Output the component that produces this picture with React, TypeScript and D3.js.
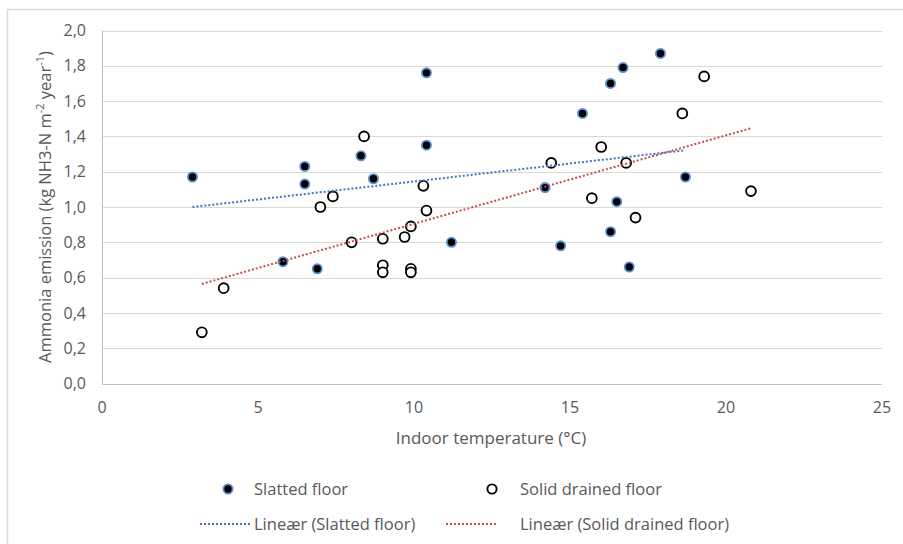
import * as d3 from "d3";

// Slatted floor measurements
const slattedTemp = [2.9, 5.8, 6.5, 6.5, 6.9, 8.3, 8.7, 10.4, 10.4, 11.2, 14.2, 14.7, 15.4, 16.3, 16.7, 16.3, 16.5, 16.9, 17.9, 18.7];
const slattedNH3 = [1.17, 0.69, 1.23, 1.13, 0.65, 1.29, 1.16, 1.76, 1.35, 0.8, 1.11, 0.78, 1.53, 1.7, 1.79, 0.86, 1.03, 0.66, 1.87, 1.17];

// Solid drained floor measurements
const solidTemp = [3.2, 3.9, 7.0, 7.4, 8.0, 8.4, 9.0, 9.0, 9.0, 9.7, 9.9, 9.9, 9.9, 10.3, 10.4, 14.4, 15.7, 16.0, 16.8, 17.1, 18.6, 19.3, 20.8];
const solidNH3 = [0.29, 0.54, 1.0, 1.06, 0.8, 1.4, 0.82, 0.67, 0.63, 0.83, 0.89, 0.65, 0.63, 1.12, 0.98, 1.25, 1.05, 1.34, 1.25, 0.94, 1.53, 1.74, 1.09];

const xTicks = [0, 5, 10, 15, 20, 25];
const yTicks = [0, 0.2, 0.4, 0.6, 0.8, 1.0, 1.2, 1.4, 1.6, 1.8, 2.0];

const W = 903;
const H = 544;
const margin = { top: 30.5, right: 21, bottom: 160.5, left: 102 };

const FONT = "'Open Sans', 'Noto Sans', sans-serif";
const GREY = "#595959";
const BLUE = "#4472c4";
const RED = "#c0504d";

// least squares fit, drawn over the x range of the data like Excel's trendline
function linear(xs: number[], ys: number[]) {
  const mx = d3.mean(xs)!;
  const my = d3.mean(ys)!;
  let sxy = 0;
  let sxx = 0;
  xs.forEach((x, i) => {
    sxy += (x - mx) * (ys[i] - my);
    sxx += (x - mx) * (x - mx);
  });
  const b = sxy / sxx;
  const a = my - b * mx;
  const [x0, x1] = d3.extent(xs) as [number, number];
  return [
    [x0, a + b * x0],
    [x1, a + b * x1],
  ];
}

export default function App() {
  const x = d3.scaleLinear().domain([0, 25]).range([margin.left, W - margin.right]);
  const y = d3.scaleLinear().domain([0, 2]).range([H - margin.bottom, margin.top]);
  const line = d3
    .line<number[]>()
    .x((d) => x(d[0]))
    .y((d) => y(d[1]));

  const fmt = (v: number) => d3.format(".1f")(v).replace(".", ",");
  const slattedFit = linear(slattedTemp, slattedNH3);
  const solidFit = linear(solidTemp, solidNH3);
  const plotMidY = (y(0) + y(2)) / 2;

  return (
    <svg
      width={W}
      height={H}
      style={{ position: "absolute", left: 0, top: 0, background: "#fff" }}
      fontFamily={FONT}
    >
      {/* chart area frame */}
      <rect x={7.5} y={9.5} width={W + 20} height={H + 20} fill="#fff" stroke="#d9d9d9" strokeWidth={1.5} />

      {/* gridlines */}
      {yTicks.map((t) => (
        <line
          key={t}
          x1={x(0)}
          x2={x(25)}
          y1={Math.round(y(t)) + 0.5}
          y2={Math.round(y(t)) + 0.5}
          stroke={t === 0 ? "#bfbfbf" : "#d9d9d9"}
          strokeWidth={1}
        />
      ))}
      <line x1={x(0) + 0.5} x2={x(0) + 0.5} y1={y(2)} y2={y(0)} stroke="#bfbfbf" />

      {/* tick labels */}
      {yTicks.map((t) => (
        <text key={t} x={x(0) - 16} y={y(t)} dy="0.35em" textAnchor="end" fontSize={16} fill={GREY}>
          {fmt(t)}
        </text>
      ))}
      {xTicks.map((t) => (
        <text key={t} x={x(t)} y={y(0) + 29} textAnchor="middle" fontSize={16} fill={GREY}>
          {t}
        </text>
      ))}

      {/* axis titles */}
      <text x={x(12.5) - 1} y={y(0) + 60} textAnchor="middle" fontSize={17} fill={GREY}>
        Indoor temperature (°C)
      </text>
      <text
        transform={`translate(51, ${plotMidY}) rotate(-90)`}
        textAnchor="middle"
        fontSize={16.5}
        fill={GREY}
      >
        Ammonia emission (kg NH3-N m
        <tspan dy={-7} fontSize={11}>-2</tspan>
        <tspan dy={7}> year</tspan>
        <tspan dy={-7} fontSize={11}>-1</tspan>
        <tspan dy={7}>)</tspan>
      </text>

      {/* markers */}
      {slattedTemp.map((t, i) => (
        <circle key={"s" + i} cx={x(t)} cy={y(slattedNH3[i])} r={4.6} fill="#000" stroke="#5b8fd6" strokeWidth={1.8} />
      ))}
      {solidTemp.map((t, i) => (
        <circle key={"o" + i} cx={x(t)} cy={y(solidNH3[i])} r={4.9} fill="#fff" stroke="#000" strokeWidth={1.9} />
      ))}

      {/* trendlines */}
      <path d={line(slattedFit)!} fill="none" stroke={BLUE} strokeWidth={2} strokeDasharray="2 2" />
      <path d={line(solidFit)!} fill="none" stroke={RED} strokeWidth={2} strokeDasharray="2 2" />

      {/* legend */}
      <g fontSize={16.5} fill={GREY}>
        <circle cx={228} cy={489} r={4.6} fill="#000" stroke="#5b8fd6" strokeWidth={1.8} />
        <text x={254} y={489} dy="0.35em">Slatted floor</text>
        <circle cx={492} cy={489} r={4.6} fill="#fff" stroke="#000" strokeWidth={1.9} />
        <text x={520} y={489} dy="0.35em">Solid drained floor</text>
        <line x1={200} x2={250} y1={524} y2={524} stroke={BLUE} strokeWidth={2} strokeDasharray="2 2" />
        <text x={254} y={524} dy="0.35em">Lineær (Slatted floor)</text>
        <line x1={446} x2={496} y1={524} y2={524} stroke={RED} strokeWidth={2} strokeDasharray="2 2" />
        <text x={520} y={524} dy="0.35em">Lineær (Solid drained floor)</text>
      </g>
    </svg>
  );
}
